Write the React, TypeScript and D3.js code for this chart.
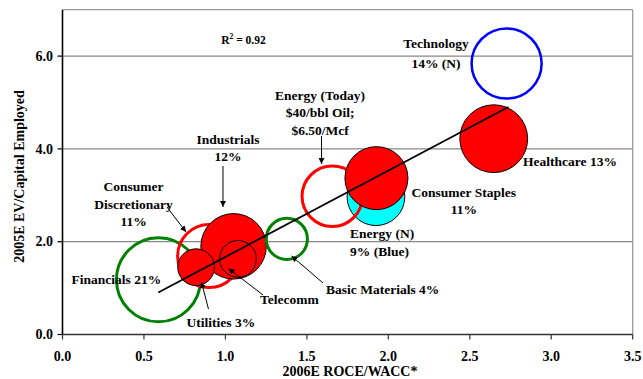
import React from "react";
import * as d3 from "d3";

// Sector bubbles: 2006E ROCE/WACC vs 2005E EV/Capital Employed, sized by index weight (%)
const sectors = [
  "Financials",
  "Consumer Discretionary",
  "Industrials",
  "Utilities",
  "Telecomm",
  "Basic Materials",
  "Energy (N)",
  "Energy (Today)",
  "Consumer Staples",
  "Healthcare",
  "Technology",
];
const roceWacc = [0.589, 0.9, 1.05, 0.82, 1.077, 1.377, 1.924, 1.656, 1.927, 2.647, 2.726];
const evCapEmployed = [1.18, 1.69, 1.9, 1.45, 1.63, 2.06, 2.97, 2.98, 3.37, 4.22, 5.84];
const weights = [21, 11, 12, 3, 3, 4, 9, 10, 11, 13, 14];

// Linear trend line fitted across the sectors
const trendSlope = 1.861;
const trendIntercept = -0.189;
const trendXRange = [0.588, 2.737];
const rSquared = "0.92";

const xTicks = [0, 0.5, 1, 1.5, 2, 2.5, 3, 3.5];
const yTicks = [0, 2, 4, 6];
const yGrid = [2, 4, 6];

const xTitle = "2006E ROCE/WACC*";
const yTitle = "2005E EV/Capital Employed";

type Style = { fill: string; stroke: string; sw: number };
const bubbleStyle: Record<string, Style> = {
  Financials: { fill: "none", stroke: "#008000", sw: 3 },
  "Consumer Discretionary": { fill: "none", stroke: "#FF0000", sw: 3 },
  Industrials: { fill: "#FF0000", stroke: "#000", sw: 1 },
  Utilities: { fill: "#FF0000", stroke: "#000", sw: 1 },
  Telecomm: { fill: "none", stroke: "#000", sw: 1 },
  "Basic Materials": { fill: "none", stroke: "#008000", sw: 3 },
  "Energy (N)": { fill: "#00FFFF", stroke: "#000", sw: 1 },
  "Energy (Today)": { fill: "none", stroke: "#FF0000", sw: 3 },
  "Consumer Staples": { fill: "#FF0000", stroke: "#000", sw: 1 },
  Healthcare: { fill: "#FF0000", stroke: "#000", sw: 1 },
  Technology: { fill: "none", stroke: "#0000FF", sw: 2.5 },
};

// Annotation text, placed in data units (first baseline), line gap in px
type Note = { lines: string[]; x: number; y: number; anchor: "start" | "middle" | "end"; gap?: number };
const notes: Note[] = [
  { lines: ["Technology", "14% (N)"], x: 2.293, y: 6.18, anchor: "middle", gap: 20 },
  { lines: ["Healthcare 13%"], x: 2.827, y: 3.642, anchor: "start" },
  { lines: ["Energy (Today)", "$40/bbl Oil;", "$6.50/Mcf"], x: 1.581, y: 5.05, anchor: "middle", gap: 17.3 },
  { lines: ["Industrials", "12%"], x: 1.016, y: 4.11, anchor: "middle", gap: 17.4 },
  { lines: ["Consumer", "Discretionary", "11%"], x: 0.436, y: 3.088, anchor: "middle", gap: 17.5 },
  { lines: ["Financials 21%"], x: 0.056, y: 1.093, anchor: "start" },
  { lines: ["Utilities 3%"], x: 0.972, y: 0.157, anchor: "middle" },
  { lines: ["Telecomm"], x: 1.212, y: 0.647, anchor: "start" },
  { lines: ["Basic Materials 4%"], x: 1.618, y: 0.877, anchor: "start" },
  { lines: ["Consumer Staples", "11%"], x: 2.463, y: 2.968, anchor: "middle", gap: 17 },
  { lines: ["Energy (N)", "9% (Blue)"], x: 1.765, y: 2.084, anchor: "start", gap: 18.4 },
];

// Leader arrows in data units: [fromX, fromY, toX, toY]
const arrows: [number, number, number, number][] = [
  [1.59, 4.278, 1.59, 3.675],
  [0.985, 3.631, 0.985, 2.748],
  [0.641, 2.748, 0.758, 2.209],
  [0.896, 0.55, 0.853, 1.131],
  [1.231, 0.851, 1.019, 1.422],
  [1.599, 1.11, 1.406, 1.692],
];

const W = 643;
const H = 379;
const FONT = "'Liberation Serif', 'Times New Roman', Times, serif";

export default function App() {
  const x = d3.scaleLinear().domain([0, 3.5]).range([62.5, 632.7]);
  const y = d3.scaleLinear().domain([0, 7]).range([334.5, 9.7]);
  const r = d3.scaleSqrt().domain([0, 21]).range([4, 42]);

  const data = sectors.map((s, i) => ({
    name: s,
    x: roceWacc[i],
    y: evCapEmployed[i],
    w: weights[i],
  }));

  const trend = d3
    .line<number>()
    .x((d) => x(d))
    .y((d) => y(trendSlope * d + trendIntercept))(trendXRange);

  const [x0, x1] = x.range();
  const [y0, y1] = y.range();

  return (
    <div style={{ position: "fixed", left: 0, top: 0 }}>
      <svg width={W} height={H} style={{ display: "block", background: "#fff" }} fontFamily={FONT} fontWeight="bold">
        <defs>
          <marker id="ah" viewBox="0 0 10 10" refX="10" refY="5" markerWidth="6" markerHeight="6" markerUnits="userSpaceOnUse" orient="auto">
            <path d="M0,0 L10,5 L0,10 z" fill="#000" />
          </marker>
        </defs>

        {/* grid and frame */}
        {yGrid.map((t) => (
          <line key={t} x1={x0} x2={x1} y1={y(t)} y2={y(t)} stroke="#888" strokeWidth={1.3} />
        ))}
        <line x1={x0} x2={x1} y1={y1} y2={y1} stroke="#999" strokeWidth={1.3} />
        <line x1={x1} x2={x1} y1={y1} y2={y0} stroke="#999" strokeWidth={1.3} />

        {/* bubbles */}
        {data.map((d) => {
          const st = bubbleStyle[d.name];
          return (
            <circle
              key={d.name}
              cx={x(d.x)}
              cy={y(d.y)}
              r={r(d.w)}
              fill={st.fill}
              stroke={st.stroke}
              strokeWidth={st.sw}
            />
          );
        })}

        {/* trend line */}
        <path d={trend || ""} fill="none" stroke="#000" strokeWidth={1.8} />

        {/* axes */}
        <line x1={x0} x2={x1} y1={y0} y2={y0} stroke="#333" strokeWidth={1.6} />
        <line x1={x0} x2={x0} y1={y0} y2={y1} stroke="#000" strokeWidth={1.6} />
        {xTicks.map((t) => (
          <g key={t}>
            <line x1={x(t)} x2={x(t)} y1={y0} y2={y0 + 5} stroke="#333" strokeWidth={1.2} />
            <text x={x(t)} y={361.4} textAnchor="middle" fontSize={14}>
              {t.toFixed(1)}
            </text>
          </g>
        ))}
        {yTicks.map((t) => (
          <g key={t}>
            <line x1={x0 - 5} x2={x0} y1={y(t)} y2={y(t)} stroke="#000" strokeWidth={1.2} />
            <text x={53} y={y(t) + 4.7} textAnchor="end" fontSize={14}>
              {t.toFixed(1)}
            </text>
          </g>
        ))}
        <text x={350} y={376} textAnchor="middle" fontSize={14}>
          {xTitle}
        </text>
        <text transform="translate(23.5,176.5) rotate(-90)" textAnchor="middle" fontSize={14}>
          {yTitle}
        </text>

        {/* R squared */}
        <text x={x(1.111)} y={y(6.26)} textAnchor="middle" fontSize={11.5}>
          R<tspan dy={-5} fontSize={7.5}>2</tspan>
          <tspan dy={5}> = {rSquared}</tspan>
        </text>

        {/* leader arrows */}
        {arrows.map((a, i) => (
          <line
            key={i}
            x1={x(a[0])}
            y1={y(a[1])}
            x2={x(a[2])}
            y2={y(a[3])}
            stroke="#000"
            strokeWidth={1}
            markerEnd="url(#ah)"
          />
        ))}

        {/* labels */}
        {notes.map((n, i) => (
          <text key={i} x={x(n.x)} y={y(n.y)} textAnchor={n.anchor} fontSize={13.5}>
            {n.lines.map((l, j) => (
              <tspan key={j} x={x(n.x)} dy={j === 0 ? 0 : n.gap || 17}>
                {l}
              </tspan>
            ))}
          </text>
        ))}
      </svg>
    </div>
  );
}
